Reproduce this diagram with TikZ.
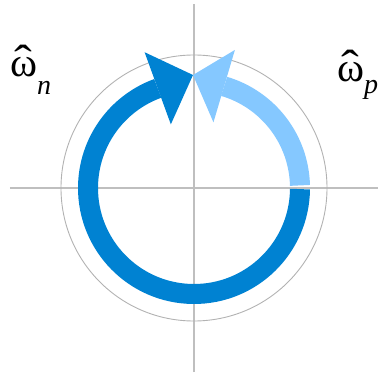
\RequirePackage{fix-cm}
\documentclass[tikz,border=0pt]{standalone}
\usepackage{amsmath}
\usepackage{fontspec}
\setmainfont{Liberation Serif}
\usepackage{xcolor}
\usepackage{tikz}
\usetikzlibrary{positioning}

\definecolor{wdark}{RGB}{0,130,210}
\definecolor{wlight}{RGB}{133,200,255}

% omega with a hat on top
\newcommand{\whatom}{\ooalign{ω\cr\hidewidth\scalebox{1.3}[1.1]{ˆ}\hidewidth\cr}}

\begin{document}
\begin{tikzpicture}[
  x=1pt, y=1pt,
  axis/.style = {draw=black!25, line width=1.2pt},
  ring/.style = {draw=black!30, line width=0.9pt},
  band/.style = {line width=20pt},
  lbl/.style  = {inner sep=0pt, anchor=base west,
                 font=\fontsize{41}{44}\selectfont}
]
\useasboundingbox (-194,-186) rectangle (194,188);

% axes and reference circle
\coordinate (o)   at (0,0);
\coordinate (tip) at (-1,113);
\draw[axis] (-184,0) -- (184,0);
\draw[axis] (0,-184) -- (0,184);
\draw[ring] (o) circle[radius=133];

% negative branch
\draw[band, wdark] (-0.6:106) arc[start angle=-0.6, end angle=-250, radius=106];
\fill[wdark] (110:144.5) -- (tip) -- (110:67.7) -- cycle;

% positive branch
\draw[band, wlight] (1.4:106) arc[start angle=1.4, end angle=73.5, radius=106];
\fill[wlight] (73.5:144) -- (tip) -- (73.5:68.5) -- cycle;

\node[lbl] (wn) at (-184,111) {\whatom\raisebox{-18pt}{\fontsize{28}{30}\selectfont\itshape n}};
\node[lbl] (wp) at (143,106)  {\whatom\raisebox{-12pt}{\fontsize{28}{30}\selectfont\itshape p}};
\end{tikzpicture}
\end{document}
